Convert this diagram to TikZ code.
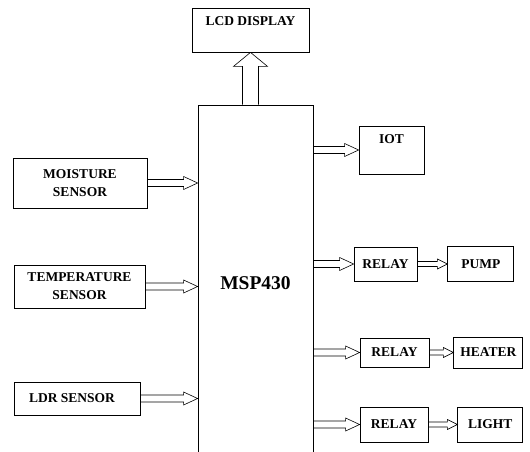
\documentclass[tikz,border=0pt]{standalone}
\usepackage{fontspec}
\setmainfont{Liberation Serif}
\usetikzlibrary{positioning, calc}

\tikzset{
  block/.style={draw, line width=0.8pt, inner sep=0pt, align=center,
    font=\fontsize{13.5}{18}\selectfont\bfseries},
  toptext/.style={anchor=north, inner sep=0pt, yshift=-9pt,
    font=\fontsize{13.5}{18}\selectfont\bfseries},
  % hollow block arrow, pointing right
  fatright/.style n args={3}{draw, line width=0.6pt,
    to path={let \p1=(\tikztostart), \p2=(\tikztotarget) in
      (\x1,\y1+#1) -- (\x2-#3,\y1+#1) -- (\x2-#3,\y1+#2) -- (\x2,\y1)
      -- (\x2-#3,\y1-#2) -- (\x2-#3,\y1-#1) -- (\x1,\y1-#1)}},
  % hollow block arrow, pointing up
  fatup/.style n args={3}{draw, line width=0.6pt,
    to path={let \p1=(\tikztostart), \p2=(\tikztotarget) in
      (\x1-#1,\y1) -- (\x1-#1,\y2-#3) -- (\x1-#2,\y2-#3) -- (\x1,\y2)
      -- (\x1+#2,\y2-#3) -- (\x1+#1,\y2-#3) -- (\x1+#1,\y1)}},
  bigarrow/.style={fatright={3.5pt}{6.5pt}{14pt}},
  smallarrow/.style={fatright={2.5pt}{5pt}{10pt}},
}

\begin{document}
\begin{tikzpicture}[x=1pt, y=-1pt]
    \useasboundingbox (0,0) rectangle (530,452);
    \clip (0,0) rectangle (530,452);

    % controller, open at the bottom of the page
    \node[block, minimum width=115pt, minimum height=356pt,
      font=\fontsize{19.5}{22}\selectfont\bfseries] (msp) at (255.5,283) {MSP430};

    % display
    \node[block, minimum width=117pt, minimum height=44pt,
      label={[toptext]north:LCD DISPLAY}] (lcd) at (250.5,30) {};

    % sensors
    \node[block, minimum width=134pt, minimum height=50pt] (moist) at (80,183) {MOISTURE\\SENSOR};
    \node[block, minimum width=131pt, minimum height=43pt] (temp) at (79.5,286.5) {TEMPERATURE\\SENSOR};
    \node[block, minimum width=126pt, minimum height=33pt] (ldr) at (77,398.5) {\hspace*{-10pt}LDR SENSOR};

    % outputs
    \node[block, minimum width=65pt, minimum height=48pt,
      label={[toptext]north:IOT}] (iot) at (391.5,150) {};
    \node[block, minimum width=63pt, minimum height=34pt] (relay1) at (385.5,264) {RELAY};
    \node[block, minimum width=66pt, minimum height=35pt, right=30pt of relay1] (pump) {PUMP};
    \node[block, minimum width=69pt, minimum height=29pt] (relay2) at (394.5,352.5) {RELAY};
    \node[block, minimum width=69pt, minimum height=31pt, right=24pt of relay2] (heater) {HEATER};
    \node[block, minimum width=68pt, minimum height=35pt] (relay3) at (394,424.5) {RELAY};
    \node[block, minimum width=65pt, minimum height=35pt, right=29pt of relay3] (light) {LIGHT};

    % arrows
    \draw[fatup={8pt}{17pt}{14pt}] (lcd.south |- msp.north) to (lcd.south);
    \draw[bigarrow] (moist.east) to (msp.west |- moist.east);
    \draw[bigarrow] (temp.east) to (msp.west |- temp.east);
    \draw[bigarrow] (ldr.east) to (msp.west |- ldr.east);
    \draw[bigarrow] (msp.east |- iot.west) to (iot.west);
    \draw[bigarrow] (msp.east |- relay1.west) to (relay1.west);
    \draw[bigarrow] (msp.east |- relay2.west) to (relay2.west);
    \draw[bigarrow] (msp.east |- relay3.west) to (relay3.west);
    \draw[smallarrow] (relay1.east) to (pump.west);
    \draw[smallarrow] (relay2.east) to (heater.west);
    \draw[smallarrow] (relay3.east) to (light.west);
\end{tikzpicture}
\end{document}
